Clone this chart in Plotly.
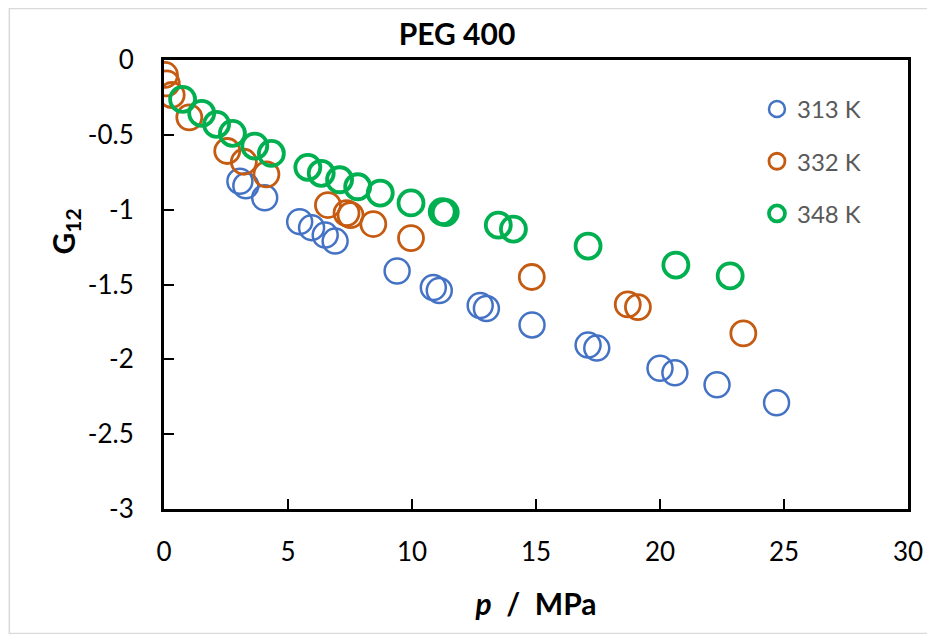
import plotly.graph_objects as go

# G12 vs pressure, PEG 400
p_313 = [3.06, 3.30, 4.06, 5.47, 5.95, 6.50, 6.90, 9.40, 10.86, 11.10, 12.75, 13.00,
         14.84, 17.10, 17.45, 20.00, 20.60, 22.30, 24.70]
g_313 = [-0.81, -0.84, -0.92, -1.08, -1.12, -1.17, -1.21, -1.41, -1.52, -1.54, -1.64, -1.66,
         -1.77, -1.905, -1.925, -2.06, -2.09, -2.17, -2.29]

p_332 = [0.04, 0.11, 0.31, 1.02, 2.55, 3.22, 4.13, 6.61, 7.36, 7.52, 8.44, 9.96,
         14.83, 18.70, 19.11, 23.36]
g_332 = [-0.10, -0.156, -0.234, -0.383, -0.608, -0.68, -0.764, -0.969, -1.023, -1.036, -1.096, -1.19,
         -1.45, -1.633, -1.651, -1.827]

p_348 = [0.75, 1.52, 2.12, 2.76, 3.66, 4.33, 5.80, 6.34, 7.08, 7.81, 8.72, 9.96,
         11.22, 11.34, 13.48, 14.09, 17.10, 20.64, 22.83]
g_348 = [-0.263, -0.356, -0.43, -0.49, -0.575, -0.624, -0.717, -0.757, -0.80, -0.847, -0.889, -0.955,
         -1.014, -1.019, -1.103, -1.13, -1.243, -1.37, -1.442]

series = [
    ("313 K", p_313, g_313, "#4472C4", 2.5),
    ("332 K", p_332, g_332, "#C55A11", 2.8),
    ("348 K", p_348, g_348, "#00B050", 3.8),
]

fig = go.Figure()
for i, (name, x, y, col, lw) in enumerate(series):
    fig.add_trace(go.Scatter(
        x=x, y=y, mode="markers", name=name, legendgroup=str(i),
        marker=dict(symbol="circle-open", size=25, color=col, line=dict(width=lw, color=col)),
    ))

font = "Lato, 'Open Sans', sans-serif"
# page body adds 8px margin, so figure is 927x626
W, H = 927, 626
L, R, T, B = 156, 23, 52, 125
pw, ph = W - L - R, H - T - B

fig.update_layout(
    width=W, height=H,
    margin=dict(l=L, r=R, t=T, b=B),
    paper_bgcolor="white", plot_bgcolor="white",
    font=dict(family=font, color="black"),
    title=dict(text="<b>PEG 400</b>", x=449 / W, xanchor="center",
               y=1 - 26 / H, yanchor="middle", font=dict(size=30, color="black")),
    showlegend=True,
    legend=dict(x=0.797, y=0.94, xanchor="left", yanchor="top",
                font=dict(size=24, color="#595959"), tracegroupgap=18,
                bgcolor="rgba(0,0,0,0)", itemwidth=30),
    shapes=[dict(type="rect", xref="paper", yref="paper",
                 x0=(0.5 - L) / pw, x1=(W - 0.5 - L) / pw,
                 y0=(H - B - H + 0.5) / ph, y1=(H - B - 0.5) / ph,
                 line=dict(color="#D9D9D9", width=1.5), layer="below")],
    annotations=[dict(text="<b>G<sub>12</sub></b>", textangle=-90, showarrow=False,
                      xref="paper", yref="paper", x=(56 - L) / pw, y=(T + ph - 224) / ph,
                      xanchor="center", yanchor="middle",
                      font=dict(size=30, color="black"))],
)

fig.update_xaxes(
    range=[0, 30], tickvals=[0, 5, 10, 15, 20, 25, 30],
    showgrid=False, zeroline=False,
    showline=True, linecolor="black", linewidth=3, mirror=True,
    ticks="inside", ticklen=10, tickwidth=2, tickcolor="black",
    tickfont=dict(size=26, color="black"), ticklabelstandoff=18,
    title=dict(text="<b><i>p</i>  /  MPa</b>", font=dict(size=30, color="black"), standoff=28),
)
fig.update_yaxes(
    range=[-3, 0], tickvals=[0, -0.5, -1, -1.5, -2, -2.5, -3],
    ticktext=["0", "-0.5", "-1", "-1.5", "-2", "-2.5", "-3"],
    showgrid=False, zeroline=False,
    showline=True, linecolor="black", linewidth=3, mirror=True,
    ticks="inside", ticklen=10, tickwidth=2, tickcolor="black",
    tickfont=dict(size=26, color="black"), ticklabelstandoff=22,
)

fig.write_html("out.html")
